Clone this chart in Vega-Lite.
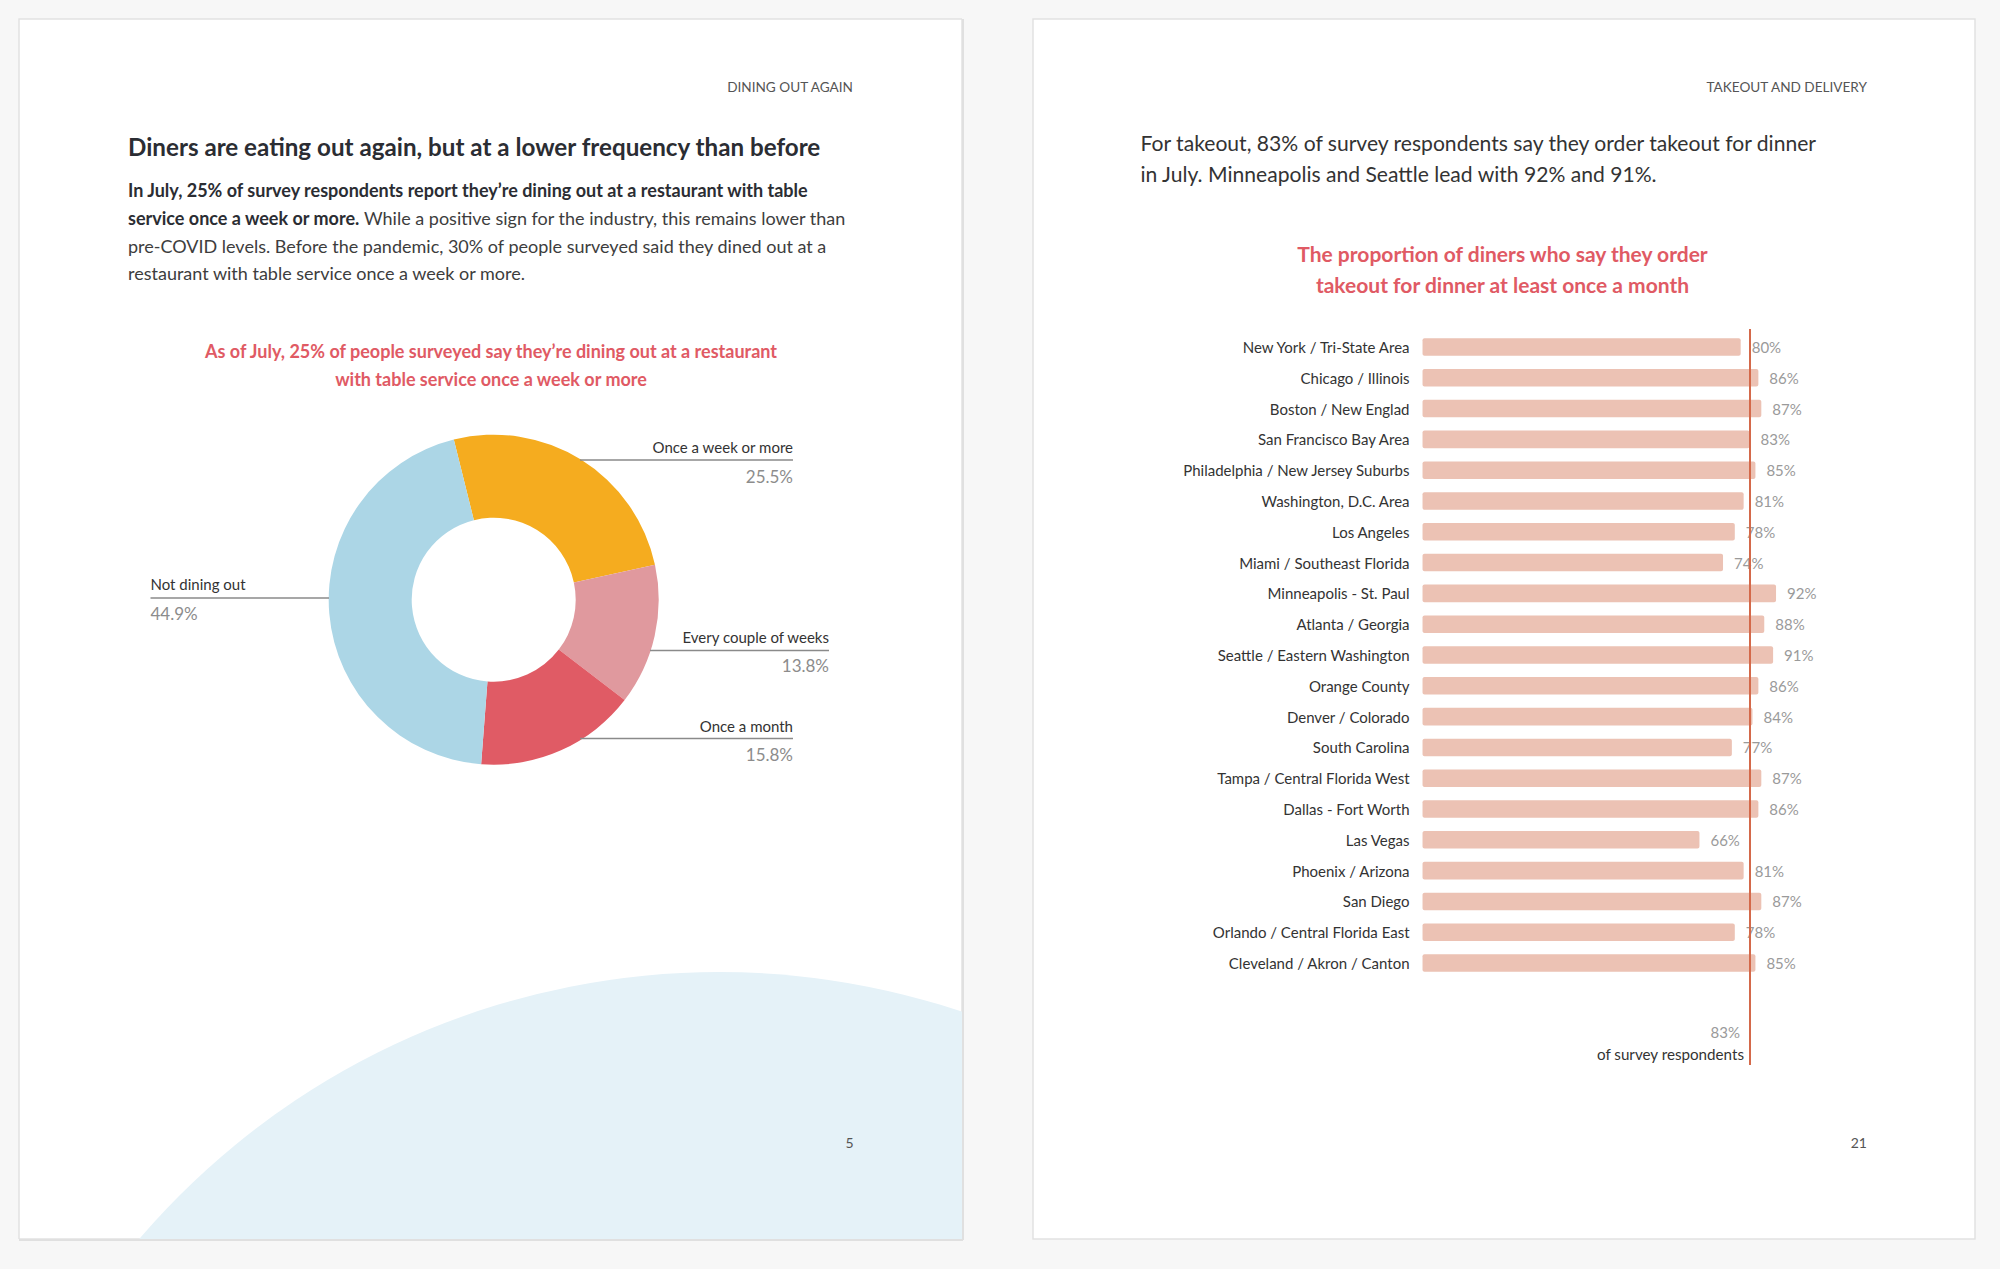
{
  "$schema": "https://vega.github.io/schema/vega-lite/v6.json",
  "width": 2000,
  "height": 1269,
  "autosize": {"type": "fit", "contains": "padding"},
  "padding": 0,
  "background": "#f7f7f7",
  "config": {"view": {"stroke": null}, "axis": {"disable": true}, "font": "Lato", "text": {"font": "Lato", "baseline": "middle", "dy": 1}},
  "resolve": {"scale": {"x": "independent", "y": "independent"}},
  "layer": [
    {
      "data": {"values": [{}]},
      "layer": [
        {"mark": {"type": "rect", "fill": "#ffffff", "stroke": "#e2e2e2", "strokeWidth": 1.5},
         "encoding": {
           "x": {"datum": 19, "type": "quantitative", "scale": {"domain": [0, 2000], "nice": false, "zero": false}, "axis": null},
           "x2": {"datum": 962},
           "y": {"datum": 19, "type": "quantitative", "scale": {"domain": [0, 1269], "nice": false, "zero": false, "reverse": true}, "axis": null},
           "y2": {"datum": 1239}}},
        {"mark": {"type": "point", "shape": "circle", "filled": true, "fill": "#e5f2f8", "opacity": 1, "strokeWidth": 0, "size": 2328676, "clip": true},
         "encoding": {"x": {"datum": 719}, "y": {"datum": 1735}}},
        {"mark": {"type": "rect", "fill": "#f7f7f7"},
         "encoding": {"x": {"datum": 962}, "x2": {"datum": 2000}, "y": {"datum": 0}, "y2": {"datum": 1269}}},
        {"mark": {"type": "rect", "fill": "#f7f7f7"},
         "encoding": {"x": {"datum": 0}, "x2": {"datum": 2000}, "y": {"datum": 1239}, "y2": {"datum": 1269}}},
        {"mark": {"type": "rule", "color": "#e0e0e0", "strokeWidth": 2},
         "encoding": {"x": {"datum": 963}, "y": {"datum": 19}, "y2": {"datum": 1240}}},
        {"mark": {"type": "rule", "color": "#e0e0e0", "strokeWidth": 2},
         "encoding": {"x": {"datum": 19}, "x2": {"datum": 963}, "y": {"datum": 1240}}},
        {"mark": {"type": "rect", "fill": "#ffffff", "stroke": "#e2e2e2", "strokeWidth": 1.5},
         "encoding": {"x": {"datum": 1033}, "x2": {"datum": 1975}, "y": {"datum": 19}, "y2": {"datum": 1239}}}
      ]
    },
    {
      "data": {"values": [
        {"city": "New York / Tri-State Area", "value": 0.80},
        {"city": "Chicago / Illinois", "value": 0.86},
        {"city": "Boston / New Englad", "value": 0.87},
        {"city": "San Francisco Bay Area", "value": 0.83},
        {"city": "Philadelphia / New Jersey Suburbs", "value": 0.85},
        {"city": "Washington, D.C. Area", "value": 0.81},
        {"city": "Los Angeles", "value": 0.78},
        {"city": "Miami / Southeast Florida", "value": 0.74},
        {"city": "Minneapolis - St. Paul", "value": 0.92},
        {"city": "Atlanta / Georgia", "value": 0.88},
        {"city": "Seattle / Eastern Washington", "value": 0.91},
        {"city": "Orange County", "value": 0.86},
        {"city": "Denver / Colorado", "value": 0.84},
        {"city": "South Carolina", "value": 0.77},
        {"city": "Tampa / Central Florida West", "value": 0.87},
        {"city": "Dallas - Fort Worth", "value": 0.86},
        {"city": "Las Vegas", "value": 0.66},
        {"city": "Phoenix / Arizona", "value": 0.81},
        {"city": "San Diego", "value": 0.87},
        {"city": "Orlando / Central Florida East", "value": 0.78},
        {"city": "Cleveland / Akron / Canton", "value": 0.85}
      ]},
      "encoding": {
        "y": {"field": "city", "type": "nominal", "sort": null, "axis": null,
              "scale": {"range": [338.2, 971.8], "paddingInner": 0.43, "paddingOuter": 0}}
      },
      "layer": [
        {"mark": {"type": "bar", "color": "#ecc2b4", "cornerRadius": 2},
         "encoding": {
           "x": {"field": "value", "type": "quantitative", "axis": null, "scale": {"domain": [-5.1087, 1.6802], "nice": false, "zero": false}},
           "x2": {"datum": -0.28}}},
        {"mark": {"type": "text", "align": "right", "dx": -13, "fontSize": 15, "color": "#333333"},
         "encoding": {"x": {"datum": -0.28}, "text": {"field": "city"}}},
        {"mark": {"type": "text", "align": "left", "dx": 11, "fontSize": 15, "color": "#9a9a9a"},
         "encoding": {"x": {"field": "value", "type": "quantitative"}, "text": {"field": "value", "format": ".0%"}}}
      ]
    },
    {
      "data": {"values": [{}]},
      "layer": [
        {"mark": {"type": "text", "text": "DINING OUT AGAIN", "align": "right", "fontSize": 13.6, "color": "#555555"},
         "encoding": {
           "x": {"datum": 853, "type": "quantitative", "scale": {"domain": [0, 2000], "nice": false, "zero": false}, "axis": null},
           "y": {"datum": 87, "type": "quantitative", "scale": {"domain": [0, 1269], "nice": false, "zero": false, "reverse": true}, "axis": null}}},
        {"mark": {"type": "text", "text": "Diners are eating out again, but at a lower frequency than before", "align": "left", "fontSize": 24.2, "fontWeight": "bold", "color": "#2b2d33"},
         "encoding": {"x": {"datum": 128}, "y": {"datum": 148}}},
        {"mark": {"type": "text", "text": "In July, 25% of survey respondents report they’re dining out at a restaurant with table", "align": "left", "fontSize": 18, "fontWeight": "bold", "color": "#2b2d33"},
         "encoding": {"x": {"datum": 128}, "y": {"datum": 190.5}}},
        {"mark": {"type": "text", "text": "service once a week or more.", "align": "left", "fontSize": 18, "fontWeight": "bold", "color": "#2b2d33"},
         "encoding": {"x": {"datum": 128}, "y": {"datum": 218.5}}},
        {"mark": {"type": "text", "text": "While a positive sign for the industry, this remains lower than", "align": "left", "fontSize": 18, "color": "#3d3d3d"},
         "encoding": {"x": {"datum": 364}, "y": {"datum": 218.5}}},
        {"mark": {"type": "text", "text": "pre-COVID levels. Before the pandemic, 30% of people surveyed said they dined out at a", "align": "left", "fontSize": 18, "color": "#3d3d3d"},
         "encoding": {"x": {"datum": 128}, "y": {"datum": 246.5}}},
        {"mark": {"type": "text", "text": "restaurant with table service once a week or more.", "align": "left", "fontSize": 18, "color": "#3d3d3d"},
         "encoding": {"x": {"datum": 128}, "y": {"datum": 273.5}}},
        {"mark": {"type": "text", "text": "As of July, 25% of people surveyed say they’re dining out at a restaurant", "align": "center", "fontSize": 18, "fontWeight": "bold", "color": "#e05a64"},
         "encoding": {"x": {"datum": 491}, "y": {"datum": 351.5}}},
        {"mark": {"type": "text", "text": "with table service once a week or more", "align": "center", "fontSize": 18, "fontWeight": "bold", "color": "#e05a64"},
         "encoding": {"x": {"datum": 491}, "y": {"datum": 379.5}}},
        {"data": {"values": [
           {"category": "Once a week or more", "share": 25.5, "rank": 1},
           {"category": "Every couple of weeks", "share": 13.8, "rank": 2},
           {"category": "Once a month", "share": 15.8, "rank": 3},
           {"category": "Not dining out", "share": 44.9, "rank": 4}
         ]},
         "mark": {"type": "arc", "innerRadius": 82, "outerRadius": 165},
         "encoding": {
           "theta": {"field": "share", "type": "quantitative", "stack": true, "scale": {"range": [-0.2443, 6.0389]}},
           "order": {"field": "rank", "type": "quantitative"},
           "color": {"field": "category", "type": "nominal", "legend": null,
                     "scale": {"domain": ["Once a week or more", "Every couple of weeks", "Once a month", "Not dining out"],
                               "range": ["#f5ac1f", "#e0999e", "#e05b65", "#acd6e6"]}},
           "x": {"datum": 493.7},
           "y": {"datum": 599.7}}},
        {"mark": {"type": "rule", "color": "#8a8a8a", "strokeWidth": 1.5},
         "encoding": {"x": {"datum": 580}, "x2": {"datum": 793}, "y": {"datum": 460}}},
        {"mark": {"type": "rule", "color": "#8a8a8a", "strokeWidth": 1.5},
         "encoding": {"x": {"datum": 650}, "x2": {"datum": 829}, "y": {"datum": 650.5}}},
        {"mark": {"type": "rule", "color": "#8a8a8a", "strokeWidth": 1.5},
         "encoding": {"x": {"datum": 580}, "x2": {"datum": 793}, "y": {"datum": 738.5}}},
        {"mark": {"type": "rule", "color": "#8a8a8a", "strokeWidth": 1.5},
         "encoding": {"x": {"datum": 150.5}, "x2": {"datum": 329}, "y": {"datum": 598}}},
        {"mark": {"type": "text", "text": "Once a week or more", "align": "right", "fontSize": 15, "color": "#333333"},
         "encoding": {"x": {"datum": 793}, "y": {"datum": 447}}},
        {"mark": {"type": "text", "text": "25.5%", "align": "right", "fontSize": 17, "color": "#8c8c8c"},
         "encoding": {"x": {"datum": 793}, "y": {"datum": 477}}},
        {"mark": {"type": "text", "text": "Every couple of weeks", "align": "right", "fontSize": 15, "color": "#333333"},
         "encoding": {"x": {"datum": 829}, "y": {"datum": 636.5}}},
        {"mark": {"type": "text", "text": "13.8%", "align": "right", "fontSize": 17, "color": "#8c8c8c"},
         "encoding": {"x": {"datum": 829}, "y": {"datum": 666}}},
        {"mark": {"type": "text", "text": "Once a month", "align": "right", "fontSize": 15, "color": "#333333"},
         "encoding": {"x": {"datum": 793}, "y": {"datum": 726}}},
        {"mark": {"type": "text", "text": "15.8%", "align": "right", "fontSize": 17, "color": "#8c8c8c"},
         "encoding": {"x": {"datum": 793}, "y": {"datum": 755}}},
        {"mark": {"type": "text", "text": "Not dining out", "align": "left", "fontSize": 15, "color": "#333333"},
         "encoding": {"x": {"datum": 150.5}, "y": {"datum": 584}}},
        {"mark": {"type": "text", "text": "44.9%", "align": "left", "fontSize": 17, "color": "#8c8c8c"},
         "encoding": {"x": {"datum": 150.5}, "y": {"datum": 613.5}}},
        {"mark": {"type": "text", "text": "5", "align": "center", "fontSize": 14, "color": "#555555"},
         "encoding": {"x": {"datum": 849.5}, "y": {"datum": 1143}}},
        {"mark": {"type": "text", "text": "TAKEOUT AND DELIVERY", "align": "right", "fontSize": 13.6, "color": "#555555"},
         "encoding": {"x": {"datum": 1867}, "y": {"datum": 87}}},
        {"mark": {"type": "text", "text": "For takeout, 83% of survey respondents say they order takeout for dinner", "align": "left", "fontSize": 21.1, "color": "#333333"},
         "encoding": {"x": {"datum": 1140.5}, "y": {"datum": 144}}},
        {"mark": {"type": "text", "text": "in July. Minneapolis and Seattle lead with 92% and 91%.", "align": "left", "fontSize": 21.1, "color": "#333333"},
         "encoding": {"x": {"datum": 1140.5}, "y": {"datum": 174.5}}},
        {"mark": {"type": "text", "text": "The proportion of diners who say they order", "align": "center", "fontSize": 21, "fontWeight": "bold", "color": "#e05a64"},
         "encoding": {"x": {"datum": 1502.5}, "y": {"datum": 255}}},
        {"mark": {"type": "text", "text": "takeout for dinner at least once a month", "align": "center", "fontSize": 21, "fontWeight": "bold", "color": "#e05a64"},
         "encoding": {"x": {"datum": 1502.5}, "y": {"datum": 285.5}}},
        {"mark": {"type": "rule", "color": "#d4694a", "strokeWidth": 2},
         "encoding": {"x": {"datum": 1750}, "y": {"datum": 329}, "y2": {"datum": 1065}}},
        {"mark": {"type": "text", "text": "83%", "align": "right", "fontSize": 15, "color": "#9a9a9a"},
         "encoding": {"x": {"datum": 1740}, "y": {"datum": 1032}}},
        {"mark": {"type": "text", "text": "of survey respondents", "align": "right", "fontSize": 15.2, "color": "#333333"},
         "encoding": {"x": {"datum": 1744}, "y": {"datum": 1054}}},
        {"mark": {"type": "text", "text": "21", "align": "right", "fontSize": 14, "color": "#555555"},
         "encoding": {"x": {"datum": 1867}, "y": {"datum": 1143}}}
      ]
    }
  ]
}
